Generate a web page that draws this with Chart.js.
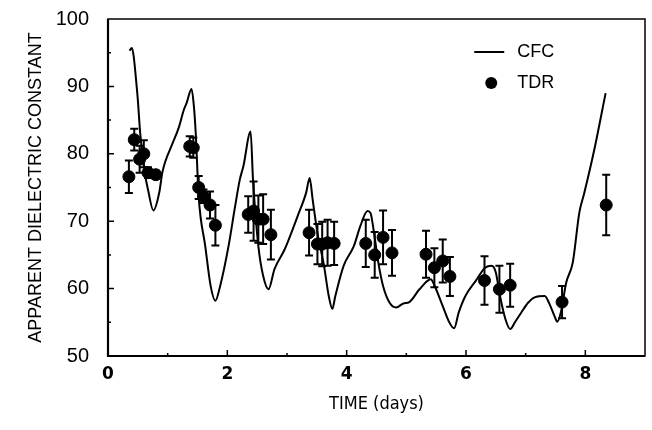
<!DOCTYPE html>
<html>
<head>
<meta charset="utf-8">
<script src="https://cdn.jsdelivr.net/npm/chart.js@4/dist/chart.umd.min.js"></script>
<style>
  html, body { margin: 0; padding: 0; background: #fff; }
  #wrap { width: 652px; height: 430px; }
</style>
</head>
<body>
<div id="wrap"><canvas id="chartCanvas"></canvas></div>
<script>
/* CFC model curve (time in days, dielectric constant) */
var cfcTime = [0.36, 0.40, 0.43, 0.47, 0.50, 0.54, 0.62, 0.67, 0.76, 0.86, 0.91, 0.97, 1.08, 1.19, 1.27, 1.32, 1.40, 1.44, 1.47,
    1.52, 1.63, 1.72, 1.80, 1.88, 2.02, 2.13, 2.21, 2.27, 2.39, 2.43, 2.52, 2.60, 2.69, 2.79, 2.96, 3.18, 3.32, 3.38,
    3.43, 3.51, 3.62, 3.70, 3.76, 3.81, 3.95, 4.12, 4.23, 4.35, 4.40, 4.45, 4.53, 4.61, 4.72, 4.83, 4.95, 5.05, 5.22,
    5.41, 5.47, 5.61, 5.72, 5.80, 5.88, 5.99, 6.16, 6.32, 6.43, 6.50, 6.57, 6.66, 6.74, 6.82, 6.93, 7.04, 7.15, 7.32,
    7.40, 7.48, 7.53, 7.59, 7.68, 7.79, 7.90, 7.98, 8.15, 8.34];
var cfcValue = [95.3, 95.7, 94.5, 91.0, 88.0, 83.0, 77.0, 74.7, 71.6, 74.3, 77.2, 79.1, 81.5, 84.0, 86.5, 87.6, 89.6, 87.0, 83.1,
    73.6, 66.3, 60.4, 58.2, 60.4, 66.3, 72.2, 76.2, 78.2, 83.3, 76.2, 66.3, 61.9, 59.9, 62.9, 65.8, 70.8, 74.2, 76.4,
    73.2, 68.3, 63.4, 58.9, 57.0, 58.9, 63.4, 66.3, 69.3, 71.5, 71.2, 68.8, 63.9, 60.4, 57.9, 57.2, 57.8, 58.0, 59.9,
    61.4, 60.5, 57.4, 55.0, 54.1, 56.5, 58.9, 61.1, 63.1, 63.4, 62.4, 58.9, 55.5, 54.0, 55.0, 56.5, 57.9, 58.7, 58.9,
    57.7, 56.0, 55.1, 56.5, 60.9, 63.9, 71.3, 74.1, 80.6, 89.0];

/* TDR measurements with error bar half-widths */
var tdrTime = [0.35, 0.44, 0.53, 0.60, 0.67, 0.80, 1.37, 1.43, 1.52, 1.60, 1.71, 1.80, 2.35, 2.44, 2.52, 2.60, 2.73,
    3.37, 3.51, 3.59, 3.68, 3.79, 4.32, 4.47, 4.61, 4.76, 5.33, 5.47, 5.61, 5.73, 6.31, 6.56, 6.74, 7.61, 8.35];
var tdrValue = [76.6, 82.1, 79.2, 80.0, 77.2, 76.9, 81.1, 80.9, 75.0, 73.7, 72.4, 69.4, 71.0, 71.5, 70.3, 70.3, 68.0,
    68.3, 66.6, 66.6, 66.8, 66.7, 66.7, 65.0, 67.6, 65.3, 65.1, 63.1, 64.1, 61.8, 61.2, 59.9, 60.5, 58.0, 72.4];
var tdrError = [2.4, 1.6, 2.0, 2.0, 0.8, 0.6, 1.5, 1.5, 1.7, 1.0, 2.0, 3.0, 2.7, 4.4, 3.5, 3.7, 3.7,
    3.4, 3.0, 3.3, 3.4, 3.2, 3.5, 3.4, 4.0, 3.4, 3.5, 2.9, 3.2, 2.9, 3.6, 3.5, 3.2, 2.4, 4.5];

var xTicks = [0, 2, 4, 6, 8];
var yTicks = [50, 60, 70, 80, 90, 100];

function toPoints(xs, ys) {
    var pts = [];
    for (var i = 0; i < xs.length; i++) {
        pts.push({x: xs[i], y: ys[i]});
    }
    return pts;
}

/* error bars, frame, inward ticks and legend */
var paperPlugin = {
    id: 'paper',
    afterDatasetsDraw: function(chart) {
        var ctx = chart.ctx;
        var xs = chart.scales.x, ys = chart.scales.y;
        ctx.save();
        ctx.strokeStyle = '#000';
        ctx.lineWidth = 2;
        for (var i = 0; i < tdrTime.length; i++) {
            var px = xs.getPixelForValue(tdrTime[i]);
            var top = ys.getPixelForValue(tdrValue[i] + tdrError[i]);
            var bot = ys.getPixelForValue(tdrValue[i] - tdrError[i]);
            ctx.beginPath();
            ctx.moveTo(px, top); ctx.lineTo(px, bot);
            ctx.moveTo(px - 4, top); ctx.lineTo(px + 4, top);
            ctx.moveTo(px - 4, bot); ctx.lineTo(px + 4, bot);
            ctx.stroke();
        }
        ctx.restore();
    },
    afterDraw: function(chart) {
        var ctx = chart.ctx;
        var a = chart.chartArea;
        var xs = chart.scales.x, ys = chart.scales.y;
        ctx.save();
        ctx.strokeStyle = '#000';
        // frame
        ctx.lineWidth = 1.5;
        ctx.strokeRect(a.left, a.top, a.right - a.left, a.bottom - a.top);
        ctx.lineWidth = 2.2;
        ctx.beginPath();
        ctx.moveTo(a.left, a.top); ctx.lineTo(a.left, a.bottom); ctx.lineTo(a.right, a.bottom);
        ctx.stroke();
        // inward ticks
        ctx.lineWidth = 1.5;
        ctx.beginPath();
        for (var t = 1; t < 9; t++) {
            var px = xs.getPixelForValue(t);
            var len = (t % 2 === 0) ? 6 : 3;
            ctx.moveTo(px, a.bottom); ctx.lineTo(px, a.bottom - len);
        }
        for (var v = 55; v < 100; v += 5) {
            var py = ys.getPixelForValue(v);
            var l = (v % 10 === 0) ? 6 : 3;
            ctx.moveTo(a.left, py); ctx.lineTo(a.left + l, py);
        }
        ctx.stroke();
        // legend
        var w = a.right - a.left, h = a.bottom - a.top;
        var lx = a.left + w * 0.682, ly = a.top + h * 0.098;
        ctx.lineWidth = 2;
        ctx.beginPath();
        ctx.moveTo(lx, ly); ctx.lineTo(lx + 30, ly);
        ctx.stroke();
        ctx.fillStyle = '#000';
        ctx.beginPath();
        ctx.arc(lx + 17, ly + 31, 6, 0, Math.PI * 2);
        ctx.fill();
        ctx.font = '18px "Liberation Sans", Arial, sans-serif';
        ctx.textBaseline = 'middle';
        ctx.textAlign = 'left';
        ctx.fillText('CFC', lx + 43, ly);
        ctx.fillText('TDR', lx + 43, ly + 31);
        ctx.restore();
    }
};

var ctx = document.getElementById('chartCanvas').getContext('2d');
var chart = new Chart(ctx, {
    type: 'scatter',
    data: {
        datasets: [{
            label: 'CFC',
            data: toPoints(cfcTime, cfcValue),
            showLine: true,
            borderColor: '#000',
            borderWidth: 2,
            pointRadius: 0,
            cubicInterpolationMode: 'monotone',
            order: 2
        }, {
            label: 'TDR',
            data: toPoints(tdrTime, tdrValue),
            showLine: false,
            backgroundColor: '#000',
            borderColor: '#000',
            pointRadius: 6,
            order: 1
        }]
    },
    options: {
        responsive: true,
        maintainAspectRatio: false,
        animation: false,
        layout: { padding: { left: 0, right: 3, top: 19, bottom: 0 } },
        plugins: {
            legend: { display: false },
            tooltip: { enabled: false }
        },
        scales: {
            x: {
                type: 'linear',
                min: 0,
                max: 9,
                afterBuildTicks: function(scale) {
                    scale.ticks = xTicks.map(function(v) { return {value: v}; });
                },
                afterFit: function(scale) { scale.height = 74; },
                grid: { display: false, drawTicks: false },
                border: { display: false },
                ticks: {
                    padding: 8,
                    color: '#000',
                    font: { family: '"DejaVu Sans"', size: 17, weight: 'bold' }
                },
                title: {
                    display: true,
                    text: 'TIME (days)',
                    color: '#000',
                    padding: { top: 0, bottom: 15 },
                    font: { family: '"DejaVu Sans Condensed", "DejaVu Sans"', size: 18 }
                }
            },
            y: {
                type: 'linear',
                min: 50,
                max: 100,
                afterBuildTicks: function(scale) {
                    scale.ticks = yTicks.map(function(v) { return {value: v}; });
                },
                afterFit: function(scale) { scale.width = 108; },
                grid: { display: false, drawTicks: true, tickLength: 16 },
                border: { display: false },
                ticks: {
                    padding: 3,
                    color: '#000',
                    font: { family: '"Liberation Sans Narrow", "Liberation Sans", Arial', size: 20 }
                },
                title: {
                    display: true,
                    text: 'APPARENT DIELECTRIC CONSTANT',
                    color: '#000',
                    padding: { top: 25, bottom: 0 },
                    font: { family: '"Liberation Sans", Arial', size: 18 }
                }
            }
        }
    },
    plugins: [paperPlugin]
});
</script>
</body>
</html>
